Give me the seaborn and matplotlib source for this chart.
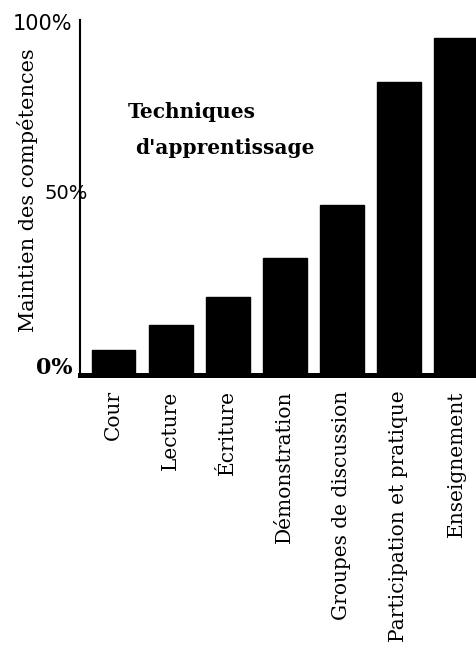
import seaborn as sns
import matplotlib.pyplot as plt
import pandas as pd

# Data
categories = ["Cour", "Lecture", "Écriture", "Démonstration",
              "Groupes de discussion", "Participation et pratique", "Enseignement"]
values = [7, 14, 22, 33, 48, 82.5, 95]
y_ticks = [0, 50, 100]
y_tick_labels = ["0%", "50%", "100%"]

df = pd.DataFrame({"technique": categories, "maintien": values})

sns.set_theme(style="white")
plt.rcParams['font.family'] = ['DejaVu Serif', 'DejaVu Sans']
plt.rcParams['text.color'] = "black"

W, H = 476, 656
fig = plt.figure(figsize=(W / 100, H / 100), dpi=100)
ax = fig.add_axes([80 / W, (H - 375) / H, (W - 80) / W, 355 / H])

sns.barplot(data=df, x="technique", y="maintien", color="black",
            edgecolor="black", width=0.77, saturation=1, ax=ax)

ax.set_xlim(-0.587, 6.35)
ax.set_ylim(0, 100)

# Spines
sns.despine(ax=ax, top=True, right=True)
ax.spines['left'].set_linewidth(1.5)
ax.spines['left'].set_color("black")
ax.spines['bottom'].set_linewidth(3.6)
ax.spines['bottom'].set_color("black")

# X tick labels
ax.set_xlabel("")
ax.set_ylabel("")
ax.set_xticks(range(len(categories)))
ax.set_xticklabels(categories, rotation=90, fontsize=14.5, color="black")
ax.tick_params(axis="x", length=0, pad=11)

# Y tick labels drawn as text, each with its own look
ax.set_yticks([])
ytrans = ax.get_yaxis_transform()
ax.text(-0.02, y_ticks[0] + 2, y_tick_labels[0], transform=ytrans, ha="right",
        va="center", fontsize=16, fontweight="bold", family="DejaVu Serif",
        color="black")
ax.text(-0.09, y_ticks[1] + 1, y_tick_labels[1], transform=ytrans, ha="left",
        va="center", fontsize=14, family="DejaVu Sans", color="black")
ax.text(-0.02, y_ticks[2] - 1, y_tick_labels[2], transform=ytrans, ha="right",
        va="center", fontsize=15, family="DejaVu Sans", color="black")

# Y axis title
fig.text(28 / W, (H - 190) / H, "Maintien des compétences", rotation=90,
         ha="center", va="center", fontsize=15, color="black")

# Chart title inside the plot
fig.text(128 / W, (H - 112) / H, "Techniques", ha="left", va="center",
         fontsize=14.5, fontweight="bold", color="black")
fig.text(135 / W, (H - 148) / H, "d'apprentissage", ha="left", va="center",
         fontsize=14.5, fontweight="bold", color="black")

plt.savefig("out.png", dpi=100)
